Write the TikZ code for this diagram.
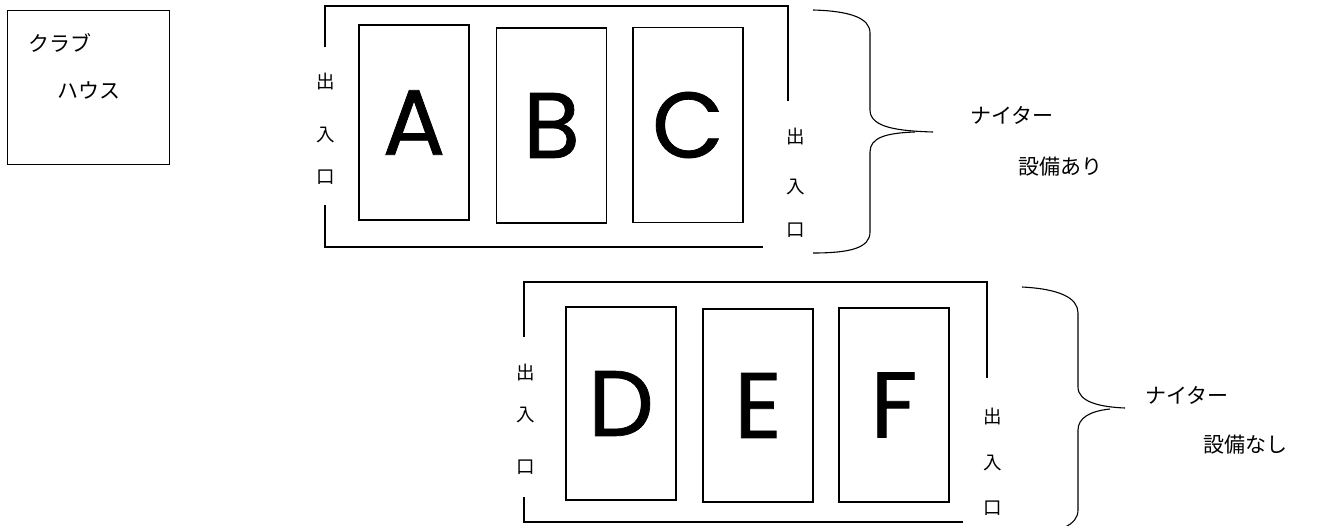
\documentclass[tikz,border=0pt]{standalone}
\usepackage{fontspec}
\newfontfamily\jp{Noto Sans CJK JP}
\newfontfamily\latn[FakeBold=0.8]{Poppins}
\begin{document}
\begin{tikzpicture}[x=1pt,y=-1pt,
  court/.style={draw, line width=1.9pt, minimum width=110pt, minimum height=195pt, inner sep=0pt, font=\latn\fontsize{93}{93}\selectfont},
  frameline/.style={line width=2.4pt},
  bracel/.style={line width=1.1pt},
  gate/.style={font=\jp\fontsize{18.5}{18.5}\selectfont, inner sep=0pt},
  lbl/.style={font=\jp\fontsize{21}{21}\selectfont, anchor=west, inner sep=0pt},
  clubbox/.style={draw, line width=1.1pt, minimum width=162pt, minimum height=154pt, anchor=north west, inner sep=0pt}]
\useasboundingbox (0,0) rectangle (1322,525);

% club house
\node[clubbox] (club) at (7,10) {};
\node[lbl] (club1) at (28,43) {クラブ};
\node[lbl] (club2) at (57,90) {ハウス};

% top group
\node[court] (A) at (414,122.5) {A};
\node[court] (B) at (551.5,125.5) {B};
\node[court] (C) at (688,125) {C};
\draw[frameline] (325,47) -- (325,6) -- (788,6) -- (788,101);
\draw[frameline] (325,205) -- (325,247) -- (763,247);
\node[gate] (g1a) at (326,82) {出};
\node[gate] (g1b) at (326,135) {入};
\node[gate] (g1c) at (326,177) {口};
\node[gate] (g2a) at (796,137) {出};
\node[gate] (g2b) at (796,187) {入};
\node[gate] (g2c) at (796,230) {口};
\draw[bracel] (813,10) .. controls (850,11) and (870,18) .. (870,33) -- (870,110) .. controls (870,128) and (900,131) .. (933,132);
\draw[bracel] (915,132) .. controls (885,133) and (870,138) .. (870,152) -- (870,232) .. controls (870,248) and (850,253) .. (813,253);
\node[lbl] (n1) at (970,115) {ナイター};
\node[lbl] (s1) at (1018,167) {設備あり};

% bottom group
\node[court, minimum height=193pt] (D) at (621,403.5) {D};
\node[court, minimum height=193pt] (E) at (758,405.5) {E};
\node[court, minimum height=194pt] (F) at (894,405) {F};
\draw[frameline] (524,337) -- (524,282) -- (987,282) -- (987,378);
\draw[frameline] (524,497) -- (524,522) -- (963,522);
\node[gate] (g3a) at (526,373) {出};
\node[gate] (g3b) at (526,415) {入};
\node[gate] (g3c) at (526,467) {口};
\node[gate] (g4a) at (993,417) {出};
\node[gate] (g4b) at (993,463) {入};
\node[gate] (g4c) at (993,508) {口};
\draw[bracel] (1022,287) .. controls (1060,289) and (1078,298) .. (1078,313) -- (1078,387) .. controls (1078,402) and (1100,407) .. (1125,408);
\draw[bracel] (1110,409) .. controls (1090,411) and (1078,418) .. (1078,430) -- (1078,510) .. controls (1078,525) and (1060,533) .. (1022,535);
\node[lbl] (n2) at (1145,395) {ナイター};
\node[lbl] (s2) at (1203,445) {設備なし};
\end{tikzpicture}
\end{document}
